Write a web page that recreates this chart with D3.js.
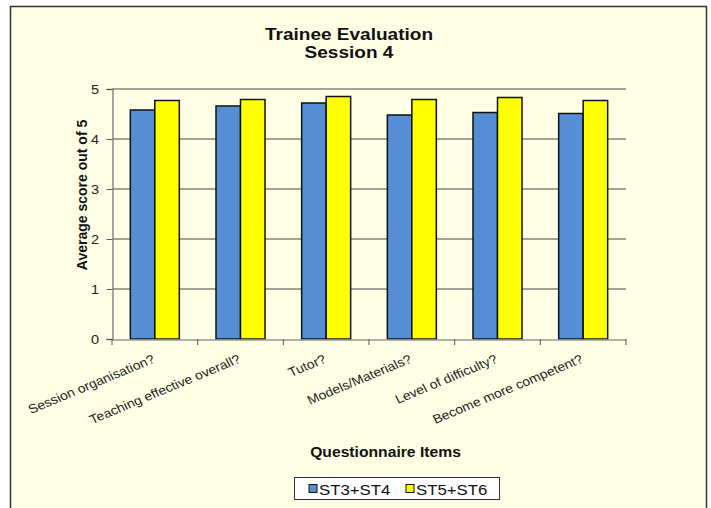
<!DOCTYPE html>
<html>
<head>
<meta charset="utf-8">
<script src="https://cdn.jsdelivr.net/npm/d3@7"></script>
<style>
  html, body { margin: 0; padding: 0; background: #ffffff; }
  svg { display: block; font-family: "Liberation Sans", Arial, sans-serif; }
</style>
</head>
<body>
<svg id="chart" width="711" height="508"></svg>
<script>
const categories = ["Session organisation?", "Teaching effective overall?", "Tutor?", "Models/Materials?", "Level of difficulty?", "Become more competent?"];
const seriesNames = ["ST3+ST4", "ST5+ST6"];
const st34 = [4.58, 4.66, 4.72, 4.48, 4.53, 4.51];
const st56 = [4.77, 4.79, 4.85, 4.79, 4.83, 4.77];
const yTicks = [0, 1, 2, 3, 4, 5];
const colors = ["#558ed5", "#ffff00"];

const svg = d3.select("#chart");
const SX = 1.12; // horizontal stretch of text in the reference

// chart frame
svg.append("rect").attr("x", 10.5).attr("y", 6.5).attr("width", 696).attr("height", 520)
  .attr("fill", "#ffffe5").attr("stroke", "#333").attr("stroke-width", 1.5);

const x0 = d3.scaleBand().domain(categories).range([112, 626]).paddingInner(0).paddingOuter(0);
const x1 = d3.scaleBand().domain(seriesNames).range([0, 49]);
const y = d3.scaleLinear().domain([0, 5]).range([339, 89]);

function sText(sel, x, yy, rot) {
  sel.attr("transform", `translate(${x},${yy}) scale(${SX},1)` + (rot ? ` rotate(${rot})` : ""));
  return sel;
}

// gridlines
svg.append("g").selectAll("line").data(yTicks.filter(d => d > 0)).join("line")
  .attr("x1", 112).attr("x2", 626).attr("y1", d => y(d)).attr("y2", d => y(d))
  .attr("stroke", "#444").attr("stroke-width", 1);

// y axis
const yAxis = svg.append("g").attr("transform", "translate(112.5,0)")
  .call(d3.axisLeft(y).tickValues(yTicks).tickSize(6).tickPadding(0).tickFormat(""));
yAxis.select(".domain").attr("stroke", "#888").attr("stroke-width", 1.5);
yAxis.selectAll(".tick line").attr("stroke", "#555");
svg.append("g").selectAll("text").data(yTicks).join("text")
  .each(function(d) { sText(d3.select(this), 99, y(d) + 4.5); })
  .attr("text-anchor", "end").attr("font-size", 13).attr("fill", "#222").text(d => d);

// bars
const groups = svg.append("g").selectAll("g").data(categories).join("g")
  .attr("transform", d => `translate(${x0(d) + (x0.bandwidth() - 49) / 2},0)`);
groups.selectAll("rect").data((d, i) => [st34[i], st56[i]].map((v, k) => ({ k, v })))
  .join("rect")
  .attr("x", d => x1(seriesNames[d.k])).attr("width", x1.bandwidth())
  .attr("y", d => y(d.v)).attr("height", d => y(0) - y(d.v))
  .attr("fill", d => colors[d.k]).attr("stroke", "#111").attr("stroke-width", 1.5);

// x axis
const xAxis = svg.append("g").attr("transform", "translate(0,339.5)")
  .call(d3.axisBottom(x0).tickSize(0).tickFormat(""));
xAxis.select(".domain").attr("stroke", "#999").attr("stroke-width", 1.5);
svg.append("g").selectAll("line").data(d3.range(categories.length + 1)).join("line")
  .attr("x1", i => 112 + i * x0.bandwidth()).attr("x2", i => 112 + i * x0.bandwidth())
  .attr("y1", 339).attr("y2", 345).attr("stroke", "#555");

// x labels
svg.append("g").selectAll("text").data(categories).join("text")
  .each(function(d) { sText(d3.select(this), x0(d) + x0.bandwidth() / 2 + 1, 362, -25); })
  .attr("text-anchor", "end").attr("font-size", 12.5).attr("fill", "#222").text(d => d);

// titles
sText(svg.append("text"), 349, 40).attr("text-anchor", "middle").attr("font-size", 17)
  .attr("font-weight", "bold").attr("fill", "#111").text("Trainee Evaluation");
sText(svg.append("text"), 349, 58).attr("text-anchor", "middle").attr("font-size", 17)
  .attr("font-weight", "bold").attr("fill", "#111").text("Session 4");
svg.append("text").attr("transform", "translate(87,195) rotate(-90)")
  .attr("text-anchor", "middle").attr("font-size", 14).attr("font-weight", "bold")
  .attr("fill", "#111").text("Average score out of 5");
sText(svg.append("text"), 385.5, 456.5).attr("text-anchor", "middle").attr("font-size", 14)
  .attr("font-weight", "bold").attr("fill", "#111").text("Questionnaire Items");

// legend
const lg = svg.append("g");
lg.append("rect").attr("x", 294.5).attr("y", 477.5).attr("width", 205).attr("height", 22)
  .attr("fill", "#fff").attr("stroke", "#333").attr("stroke-width", 1);
const legX = [309, 406];
seriesNames.forEach((s, i) => {
  lg.append("rect").attr("x", legX[i]).attr("y", 484.5).attr("width", 8).attr("height", 8)
    .attr("fill", colors[i]).attr("stroke", "#111").attr("stroke-width", 1);
  sText(lg.append("text"), legX[i] + 10, 494.5).attr("font-size", 15).attr("fill", "#111").text(s);
});
</script>
</body>
</html>
